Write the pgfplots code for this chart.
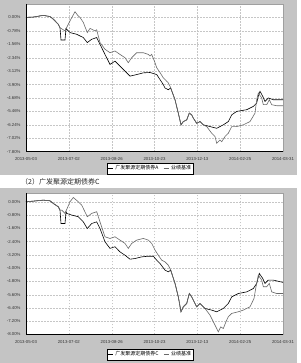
\documentclass[border=0pt]{standalone}
\usepackage{pgfplots}
\pgfplotsset{compat=1.18}
\usepackage{fontspec}
\setmainfont{Liberation Sans}
\newfontfamily\cjk{Noto Sans CJK SC}
\definecolor{panelgray}{RGB}{196,196,196}
\definecolor{benchgray}{RGB}{105,105,105}
\pgfplotsset{
  panel/.style={
    scale only axis, width=257pt,
    xmin=26, xmax=283,
    xtick={26,68.83,111.67,154.5,197.33,240.17,283},
    xticklabels={2013-05-03,2013-07-02,2013-08-26,2013-10-23,2013-12-13,2014-02-25,2014-03-31},
    grid=major,
    major grid style={gray!45, dash pattern=on 1.5pt off 1.5pt, line width=0.3pt},
    major tick length=0pt,
    axis background/.style={fill=white},
    axis line style={draw=gray!75, line width=0.5pt},
    xticklabel style={font=\fontsize{4.3}{5}\selectfont, text=black!80, yshift=-2.5pt},
    yticklabel style={font=\fontsize{4.3}{5}\selectfont, text=black!80, xshift=-2pt},
    legend columns=2,
    legend style={draw=black, fill=white, line width=0.4pt,
      font=\cjk\fontsize{5}{6}\selectfont, inner sep=0.6pt,
      /tikz/every even column/.append style={column sep=3pt}},
    legend image code/.code={\draw[#1] (0pt,0pt) -- (5pt,0pt);},
    clip=false,
  },
  fund/.style={black, line width=0.6pt},
  bench/.style={benchgray, line width=0.6pt},
}
\begin{document}
\begin{tikzpicture}
\useasboundingbox (0pt,0pt) rectangle (300pt,363pt);
\fill[white] (0pt,0pt) rectangle (300pt,363pt);
\fill[panelgray] (0pt,188pt) rectangle (297pt,363pt);
\fill[panelgray] (0pt,0pt) rectangle (297pt,175pt);
\node[anchor=west, font=\cjk\fontsize{7}{8}\selectfont, text=black!85, inner sep=0pt] at (21pt,181.5pt) {（2）广发聚源定期债券C};

\begin{axis}[panel, at={(26pt,211.3pt)}, anchor=south west, height=147.7pt,
  ymin=-7.80, ymax=0.78,
  ytick={-7.80,-7.02,-6.24,-5.46,-4.68,-3.90,-3.12,-2.34,-1.56,-0.78,0},
  yticklabels={{-7.80\%},{-7.02\%},{-6.24\%},{-5.46\%},{-4.68\%},{-3.90\%},{-3.12\%},{-2.34\%},{-1.56\%},{-0.78\%},{0.00\%}},
  legend style={at={(axis description cs:0.484,-0.076)}, anchor=north},
]
\addplot[fund] coordinates {
(26,0) (33.3,0.02) (43.3,0.12) (50,0.05) (53.3,-0.1) (58.3,-0.4) (60,-0.6)
(61,-1.31) (65,-1.31) (66,-0.65) (70,-0.88) (76.7,-0.98) (83.3,-1.17) (87.3,-1.46)
(91.7,-1.27) (96.7,-1.17) (100,-1.56) (105,-2.15) (110,-2.73) (115,-2.54) (120,-2.83)
(125,-3.12) (130,-3.41) (136.7,-3.32) (143.3,-3.22) (150,-3.2) (156.7,-3.32)
(160,-3.61) (163.3,-3.90) (165,-4.1) (168.3,-4.2) (170.7,-4.1) (175,-4.78)
(178.3,-5.56) (181,-6.24) (183.3,-6.05) (186.7,-5.95) (189.3,-5.56) (191.7,-5.66)
(193.3,-5.85) (196.7,-6.15) (200,-6.05) (203.3,-6.24) (210,-6.34) (216.7,-6.44)
(223.3,-6.24) (228.3,-6.05) (231.7,-5.66) (236.7,-5.46) (246.7,-5.36) (253.3,-5.17)
(256.7,-4.97) (258.3,-4.58) (260,-4.29) (262.7,-4.58) (265,-4.88) (268.3,-4.68)
(273.3,-4.78) (283,-4.78)
};
\addlegendentry{广发聚源定期债券A}
\addplot[bench] coordinates {
(26,0) (33.3,0.02) (43.3,0.12) (50,0.05) (53.3,-0.1) (58.3,-0.4) (60,-0.6)
(65,-0.78) (70,-0.2) (75,0.33) (78,0.1) (80,0) (83.3,-0.29) (87.3,-0.88) (90,-0.64)
(95,-0.78) (96.7,-0.72) (100,-1.46) (105,-1.85) (110,-2.05) (115,-1.95) (120,-2.15)
(125,-2.34) (128.3,-2.63) (131.7,-2.34) (136.7,-2.05) (143.3,-2.05) (148.3,-2.15)
(150,-2.24) (151.7,-2.15) (155,-2.63) (156.7,-2.92) (160,-3.2) (163.3,-3.51)
(166.7,-3.71) (168.3,-3.8) (170,-4.0) (175,-4.78) (178.3,-5.56) (181,-6.24)
(183.3,-6.05) (186.7,-5.95) (189.3,-5.56) (191.7,-5.66) (193.3,-5.85) (196.7,-6.15)
(200,-6.05) (203.3,-6.24) (206.7,-6.34) (211.7,-6.73) (215,-6.92) (216.7,-7.31)
(220,-7.12) (221.7,-7.22) (225,-6.92) (228.3,-6.73) (231.7,-6.34) (236.7,-6.34)
(243.3,-6.24) (250,-6.05) (255,-5.56) (256.7,-4.78) (258.3,-4.39) (261.7,-4.68)
(263.3,-5.07) (266.7,-5.07) (269.3,-4.78) (271.7,-5.07) (276.7,-5.13) (283,-5.13)
};
\addlegendentry{业绩基准}
\draw[black, line width=0.7pt] (rel axis cs:0,1) -- (rel axis cs:0,0) -- (rel axis cs:1,0);
\end{axis}

\begin{axis}[panel, at={(26pt,28.5pt)}, anchor=south west, height=141.5pt,
  ymin=-8.0, ymax=0.53,
  ytick={-8,-7.2,-6.4,-5.6,-4.8,-4,-3.2,-2.4,-1.6,-0.8,0},
  yticklabels={{-8.00\%},{-7.20\%},{-6.40\%},{-5.60\%},{-4.80\%},{-4.00\%},{-3.20\%},{-2.40\%},{-1.60\%},{-0.80\%},{0.00\%}},
  legend style={at={(axis description cs:0.484,-0.10)}, anchor=north},
]
\addplot[fund] coordinates {
(26,0) (33.3,0.04) (43.3,0.1) (50,0.06) (53.3,-0.1) (58.3,-0.3) (60,-0.5)
(61,-1.31) (65,-1.31) (66,-0.6) (66.7,-0.7) (71.7,-0.8) (78.3,-0.9) (83.3,-1.21)
(87.3,-1.61) (91.7,-1.31) (96.7,-1.21) (100,-1.61) (105,-2.41) (110,-2.81)
(115,-2.71) (120,-3.02) (125,-3.22) (130,-3.46) (135,-3.42) (141.7,-3.32)
(148.3,-3.28) (153.3,-3.28) (156.7,-3.52) (160,-3.72) (165,-4.12) (168.3,-4.22)
(170.7,-4.12) (175,-4.92) (178.3,-5.73) (181,-6.63) (183.3,-6.33) (186.7,-6.13)
(189.3,-5.53) (191.7,-5.73) (193.3,-5.93) (196.7,-6.33) (200,-6.13) (205,-6.43)
(211.7,-6.53) (216.7,-6.63) (223.3,-6.43) (228.3,-6.13) (231.7,-5.73) (238.3,-5.53)
(246.7,-5.43) (253.3,-5.23) (256.7,-4.92) (259.3,-4.32) (262.7,-4.62) (265,-4.92)
(268.3,-4.72) (273.3,-4.72) (283,-4.86)
};
\addlegendentry{广发聚源定期债券C}
\addplot[bench] coordinates {
(26,0) (33.3,0.04) (43.3,0.1) (50,0.06) (53.3,-0.1) (58.3,-0.3) (60,-0.5)
(61.7,-0.5) (65,-0.7) (70,0.0) (73.3,0.26) (78.3,0.0) (81.7,-0.2) (87.3,-0.9)
(91.7,-0.7) (96.7,-0.6) (100,-1.21) (105,-2.11) (110,-2.21) (115,-2.11) (120,-2.31)
(125,-2.51) (128.3,-2.81) (131.7,-2.51) (136.7,-2.31) (143.3,-2.21) (148.3,-2.31)
(150,-2.41) (151.7,-2.51) (155,-2.91) (158.3,-3.22) (161.7,-3.52) (165,-3.62)
(168.3,-3.82) (170.7,-4.12) (175,-4.92) (178.3,-5.73) (181,-6.63) (183.3,-6.33)
(186.7,-6.13) (189.3,-5.53) (191.7,-5.73) (193.3,-5.93) (196.7,-6.33) (200,-6.13)
(205,-6.43) (210,-6.83) (213.3,-7.23) (216.7,-7.64) (218.3,-7.84) (220.7,-7.54)
(223.3,-7.64) (226,-7.23) (228.3,-6.93) (231.7,-6.73) (238.3,-6.63) (243.3,-6.53)
(250,-6.33) (254,-5.83) (256,-5.12) (258.3,-4.42) (261.7,-4.72) (263.3,-5.12)
(266.7,-5.12) (269.3,-4.92) (271.7,-5.43) (276.7,-5.53) (283,-5.53)
};
\addlegendentry{业绩基准}
\draw[black, line width=0.7pt] (rel axis cs:0,1) -- (rel axis cs:0,0) -- (rel axis cs:1,0);
\end{axis}
\end{tikzpicture}
\end{document}
